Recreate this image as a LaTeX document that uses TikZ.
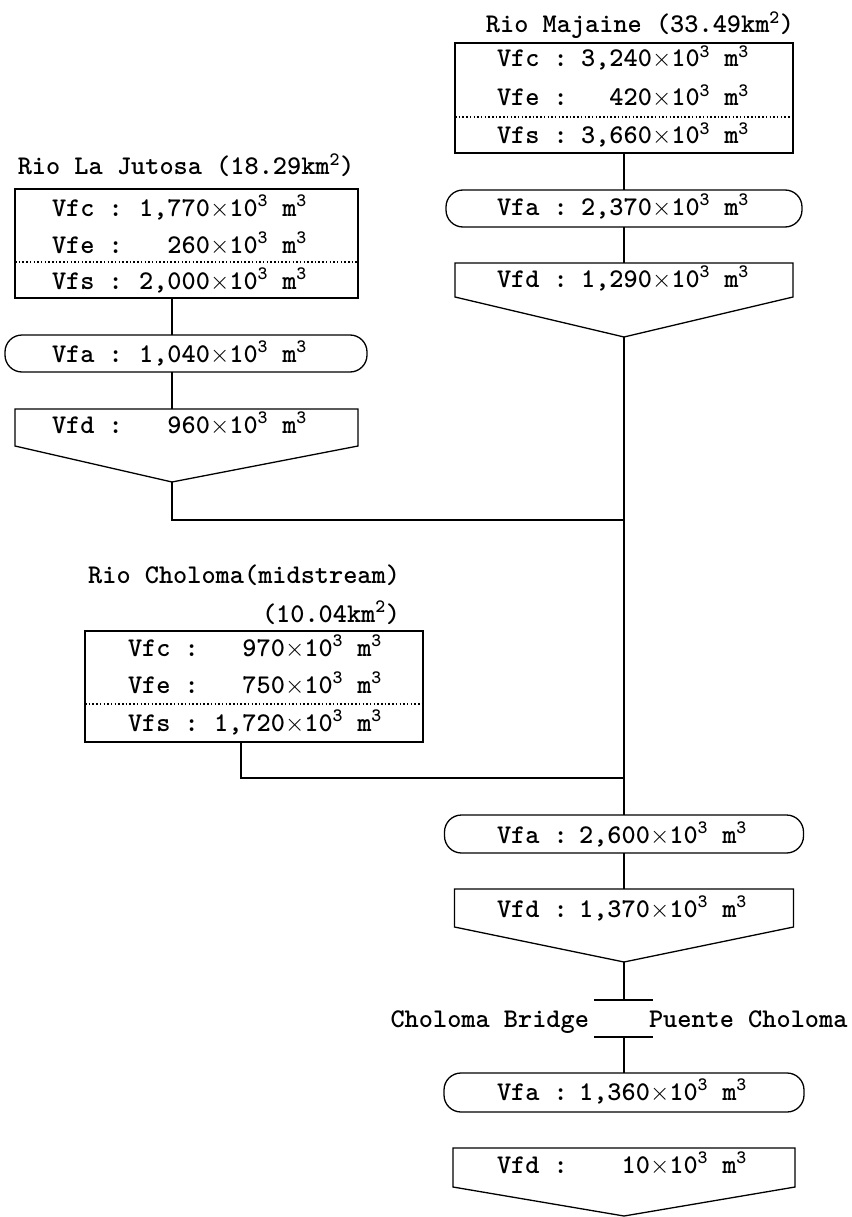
\documentclass[tikz,border=0pt]{standalone}
\usepackage{fontspec}
\newcommand\myunit{$\times$10\textsuperscript{3} m\textsuperscript{3}}
\newcommand\myrow[6]{%
  \node[txt,anchor=base west] (#1l) at (#2,#4) {#5 :};
  \node[txt,anchor=base east] (#1n) at (#3,#4) {#6};
  \node[txt,anchor=base west] (#1u) at (#3,#4) {\myunit};}
\begin{document}
\begin{tikzpicture}[x=1pt,y=-1pt,
  txt/.style={font=\fontsize{27}{31}\selectfont\ttfamily\bfseries, inner sep=0pt, outer sep=0pt},
  boxline/.style={line width=1.3pt},
  conn/.style={line width=1.8pt},
  sep/.style={line width=1.2pt, dash pattern=on 1.5pt off 2.2pt},
  frame/.style={draw, boxline, inner sep=0pt, outer sep=0pt},
  hold/.style={inner sep=0pt, outer sep=0pt},
  pill/.style={boxline, rounded corners=17pt}]
\useasboundingbox (0,0) rectangle (851,1217);

% ---------- Rio Majaine ----------
\node[txt,anchor=base] (mjt) at (640,33) {Rio Majaine (33.49km\textsuperscript{2})};
\node[frame,minimum width=338pt,minimum height=110pt] (mjb) at (624,98) {};
\draw[sep] ([yshift=36pt]mjb.south west) -- ([yshift=36pt]mjb.south east);
\myrow{mjc}{497}{652}{67}{Vfc}{3,240}
\myrow{mje}{497}{652}{106}{Vfe}{420}
\myrow{mjs}{497}{652}{144}{Vfs}{3,660}
\node[hold,minimum width=356pt,minimum height=37pt] (mja) at (624,208.5) {};
\draw[pill] (mja.north west) rectangle (mja.south east);
\myrow{mjaa}{497}{652}{215}{Vfa}{2,370}
\node[hold,minimum width=338pt,minimum height=34pt] (mjd) at (624,280) {};
\coordinate (mjtip) at (624,337);
\draw[boxline] (mjd.south west) -- (mjd.north west) -- (mjd.north east) -- (mjd.south east) -- (mjtip) -- cycle;
\myrow{mjdd}{497}{652}{287}{Vfd}{1,290}
\draw[conn] (mjb.south) -- (mja.north);
\draw[conn] (mja.south) -- (mjd.north);

% ---------- Rio La Jutosa ----------
\node[txt,anchor=base] (ljt) at (186,175) {Rio La Jutosa (18.29km\textsuperscript{2})};
\node[frame,minimum width=343pt,minimum height=109pt] (ljb) at (186.5,243.5) {};
\draw[sep] ([yshift=36pt]ljb.south west) -- ([yshift=36pt]ljb.south east);
\myrow{ljc}{52}{210}{216}{Vfc}{1,770}
\myrow{lje}{52}{210}{253}{Vfe}{260}
\myrow{ljs}{52}{210}{289}{Vfs}{2,000}
\node[hold,minimum width=362pt,minimum height=37pt] (lja) at (186,353.5) {};
\draw[pill] (lja.north west) rectangle (lja.south east);
\myrow{ljaa}{52}{210}{362}{Vfa}{1,040}
\node[hold,minimum width=343pt,minimum height=37pt] (ljd) at (186.5,427.5) {};
\coordinate (ljtip) at (172,482);
\draw[boxline] (ljd.south west) -- (ljd.north west) -- (ljd.north east) -- (ljd.south east) -- (ljtip) -- cycle;
\myrow{ljdd}{52}{210}{433}{Vfd}{960}
\draw[conn] (ljb.south -| ljtip) -- (lja.north -| ljtip);
\draw[conn] (lja.south -| ljtip) -- (ljd.north -| ljtip);
\coordinate (j1) at (624,520);
\draw[conn] (ljtip) |- (j1);

% ---------- Rio Choloma (midstream) ----------
\node[txt,anchor=base east] (cht1) at (400,583) {Rio Choloma(midstream)};
\node[txt,anchor=base east] (cht2) at (400,622) {(10.04km\textsuperscript{2})};
\node[frame,minimum width=338pt,minimum height=111pt] (chb) at (254,686.5) {};
\draw[sep] ([yshift=38pt]chb.south west) -- ([yshift=38pt]chb.south east);
\myrow{chc}{128}{285}{656}{Vfc}{970}
\myrow{che}{128}{285}{693}{Vfe}{750}
\myrow{chs}{128}{285}{731}{Vfs}{1,720}
\coordinate (chk) at (241,778);
\coordinate (j2) at (624,778);
\draw[conn] (chb.south -| chk) -- (chk) -- (j2);

% ---------- lower main course ----------
\node[hold,minimum width=359pt,minimum height=38pt] (lwa) at (624,834) {};
\draw[pill] (lwa.north west) rectangle (lwa.south east);
\myrow{lwaa}{497}{650}{843}{Vfa}{2,600}
\draw[conn] (mjtip) -- (lwa.north);
\node[hold,minimum width=339pt,minimum height=38pt] (lwd) at (624,908) {};
\coordinate (lwdtip) at (624,962);
\draw[boxline] (lwd.south west) -- (lwd.north west) -- (lwd.north east) -- (lwd.south east) -- (lwdtip) -- cycle;
\myrow{lwdd}{497}{650}{917}{Vfd}{1,370}
\draw[conn] (lwa.south) -- (lwd.north);

\coordinate (bt) at (624,1000);
\coordinate (bb) at (624,1037);
\draw[conn] (lwdtip) -- (bt);
\draw[boxline] ([xshift=-30pt]bt) -- ([xshift=29pt]bt);
\draw[boxline] ([xshift=-30pt]bb) -- ([xshift=29pt]bb);
\node[txt,anchor=base east] (cbl) at (589,1027) {Choloma Bridge};
\node[txt,anchor=base west] (cbr) at (649,1027) {Puente Choloma};

\node[hold,minimum width=360pt,minimum height=39pt] (lwb) at (624,1092.5) {};
\draw[pill] (lwb.north west) rectangle (lwb.south east);
\myrow{lwbb}{497}{650}{1100}{Vfa}{1,360}
\draw[conn] (bb) -- (lwb.north);
\node[hold,minimum width=342pt,minimum height=39pt] (lwe) at (624,1167.5) {};
\coordinate (lwetip) at (624,1216);
\draw[boxline] (lwe.south west) -- (lwe.north west) -- (lwe.north east) -- (lwe.south east) -- (lwetip) -- cycle;
\myrow{lwee}{497}{650}{1173}{Vfd}{10}
\end{tikzpicture}
\end{document}
